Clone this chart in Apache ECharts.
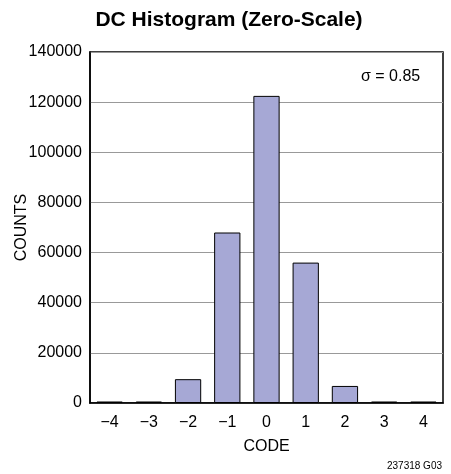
<!DOCTYPE html>
<html><head><meta charset="utf-8">
<script src="https://cdn.jsdelivr.net/npm/echarts@6/dist/echarts.min.js"></script>
<style>html,body{margin:0;padding:0;background:#fff}#c{width:451px;height:474px}</style>
</head><body><div id="c"></div>
<script>
const categories = ['\u22124','\u22123','\u22122','\u22121','0','1','2','3','4'];
const counts = [600, 600, 9500, 68000, 122500, 56000, 6800, 600, 600];
const yTicks = {min: 0, max: 140000, interval: 20000};
const FONT = '"Liberation Sans",Arial,sans-serif';
const chart = echarts.init(document.getElementById('c'), null, {renderer: 'canvas'});
chart.setOption({
  animation: false,
  backgroundColor: '#fff',
  title: {
    text: 'DC Histogram (Zero-Scale)', left: 224, top: 5, textAlign: 'center',
    textStyle: {fontFamily: FONT, fontWeight: 'bold', fontSize: 21, color: '#000'}
  },
  grid: {left: 90, right: 8, top: 52, bottom: 71, outerBoundsMode: 'none', containLabel: false,
         show: true, borderColor: '#000', borderWidth: 1.5, backgroundColor: 'transparent'},
  xAxis: {
    type: 'category', data: categories,
    name: 'CODE', nameLocation: 'middle', nameGap: 36, nameMoveOverlap: false,
    nameTextStyle: {fontFamily: FONT, fontSize: 16, color: '#000'},
    axisLine: {lineStyle: {color: '#000', width: 1.5}},
    axisTick: {show: false},
    axisLabel: {fontFamily: FONT, fontSize: 16, color: '#000', margin: 12}
  },
  yAxis: {
    type: 'value', min: yTicks.min, max: yTicks.max, interval: yTicks.interval,
    name: 'COUNTS', nameLocation: 'middle', nameGap: 60, nameRotate: 90, nameMoveOverlap: false,
    nameTextStyle: {fontFamily: FONT, fontSize: 16, color: '#000'},
    axisLine: {show: true, lineStyle: {color: '#000', width: 1.5}},
    axisTick: {show: false},
    axisLabel: {fontFamily: FONT, fontSize: 16, color: '#000', margin: 8, formatter: v => String(v)},
    splitLine: {lineStyle: {color: '#999', width: 1}}
  },
  series: [{
    type: 'bar', data: counts, barCategoryGap: '33%',
    itemStyle: {color: '#a6a8d5', borderColor: '#000', borderWidth: 1}
  }],
  graphic: [{
    type: 'text', left: 361, top: 69,
    style: {text: '\u03c3 = 0.85', font: '16px ' + FONT, fill: '#000'}
  }, {
    type: 'text', right: 9, top: 461,
    style: {text: '237318 G03', font: '10px ' + FONT, fill: '#000'}
  }]
});
</script></body></html>
